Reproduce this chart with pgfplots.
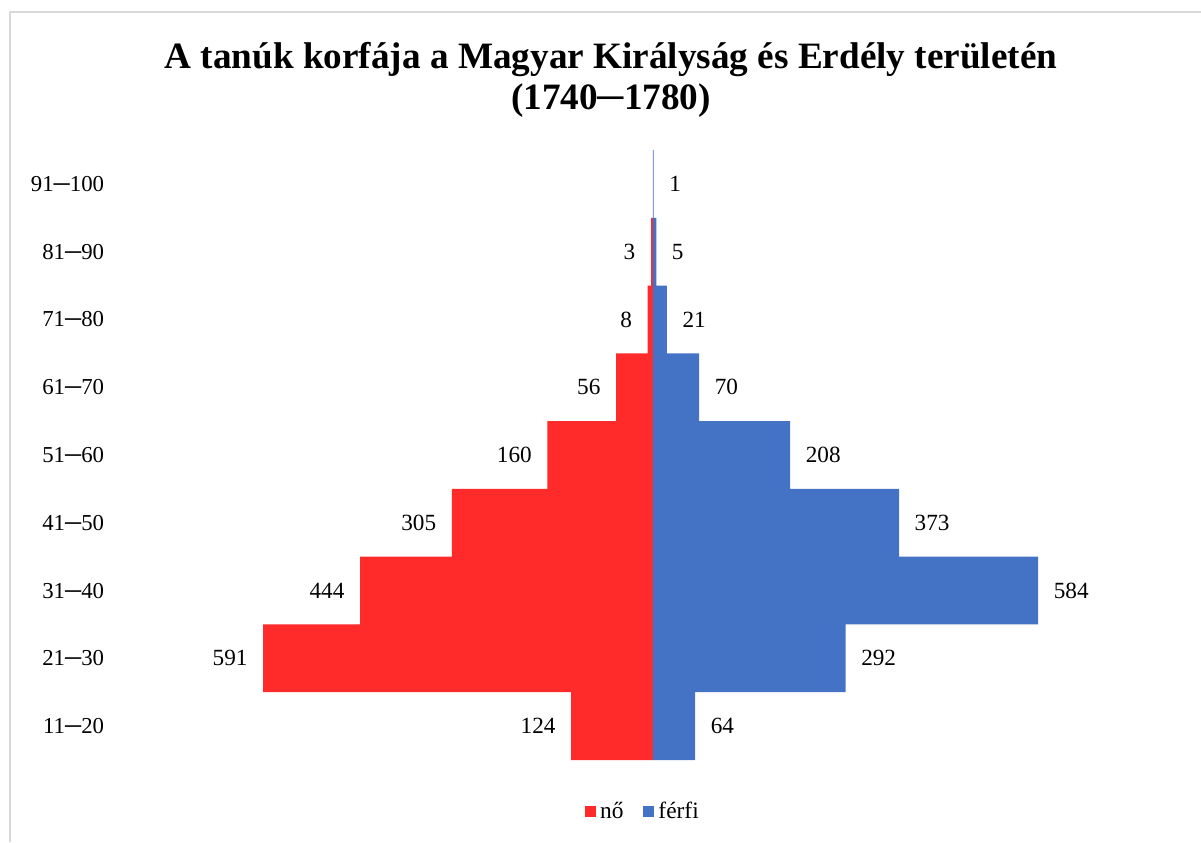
\documentclass[border=0pt]{standalone}
\usepackage{pgfplots}
\pgfplotsset{compat=1.18}
\usepackage{fontspec}
\setmainfont{Liberation Serif}
\definecolor{nored}{RGB}{255,42,42}
\definecolor{ffblue}{RGB}{68,114,196}
\definecolor{framegray}{RGB}{217,217,217}
\begin{document}
\begin{tikzpicture}
\path[use as bounding box] (0pt,0pt) rectangle (600.5pt,421pt);
\draw[framegray, line width=0.75pt] (5pt,0pt) -- (5pt,415pt) -- (600.5pt,415pt);
\node[font=\bfseries\fontsize{18.6}{20.5}\selectfont, align=center] at (305.5pt,381pt)
  {A tanúk korfája a Magyar Királyság és Erdély területén\\(1740─1780)};
\begin{axis}[
  at={(60pt,41pt)}, anchor=south west,
  scale only axis, width=533pt, height=305pt,
  xmin=-808, xmax=808, ymin=-0.5, ymax=8.5,
  xbar, axis line style={draw=none},
  xtick=\empty,
  ytick={0,...,8},
  yticklabels={11─20,21─30,31─40,41─50,51─60,61─70,71─80,81─90,91─100},
  ytick style={draw=none},
  yticklabel style={font=\fontsize{11.4}{13}\selectfont, inner sep=0pt, xshift=-3.5pt},
  point meta=explicit symbolic,
  every node near coord/.append style={font=\fontsize{11.6}{13}\selectfont, text=black},
  legend columns=2,
  legend style={draw=none, at={(0.4915,-0.085)}, anchor=center,
    font=\fontsize{11.7}{13}\selectfont, /tikz/every even column/.append style={column sep=8pt}},
  legend image code/.code={\fill[#1] (0pt,-2.75pt) rectangle (5.5pt,2.75pt);},
  clip=false,
]
\addplot[xbar, bar width=33.89pt, bar shift=0pt, fill=nored, draw=none,
  nodes near coords, nodes near coords style={anchor=east, xshift=-4.3pt}]
  table[x=x, y=y, meta=lab] {
x y lab
-124 0 124
-591 1 591
-444 2 444
-305 3 305
-160 4 160
-56 5 56
-8 6 8
-3 7 3
};
\addlegendentry{nő}
\addplot[xbar, bar width=33.89pt, bar shift=0pt, fill=ffblue, draw=none,
  nodes near coords, nodes near coords style={anchor=west, xshift=4.3pt}]
  table[x=x, y=y, meta=lab] {
x y lab
64 0 64
292 1 292
584 2 584
373 3 373
208 4 208
70 5 70
21 6 21
5 7 5
1 8 1
};
\addlegendentry{férfi}
\end{axis}
\end{tikzpicture}
\end{document}
